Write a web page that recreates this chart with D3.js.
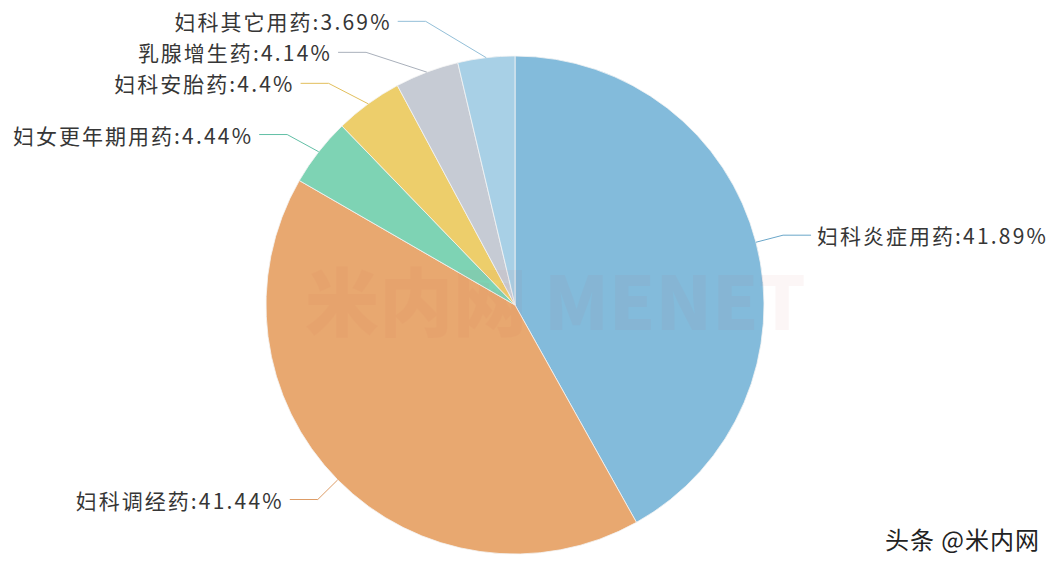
<!DOCTYPE html>
<html><head><meta charset="utf-8">
<script src="https://cdn.jsdelivr.net/npm/d3@7"></script>
<style>body{margin:0;background:#fff;} svg{display:block;}</style>
</head><body><svg id="c" width="1058" height="572"></svg>
<script>
// ---- data ----
const categories = ["妇科炎症用药", "妇科调经药", "妇女更年期用药", "妇科安胎药", "乳腺增生药", "妇科其它用药"];
const shares = [41.89, 41.44, 4.44, 4.4, 4.14, 3.69];
const sliceColors = ["#83bbdb", "#e8a870", "#7ed3b4", "#edce6b", "#c6cbd4", "#a8d0e6"];
const lineColors = ["#6aa6c9", "#dd9c66", "#62bfa6", "#e2bf5c", "#a9b0bb", "#93bfd8"];
const watermark = "米内网 MENET";
const credit = "头条 @米内网";

// ---- layout ----
const W = 1058, H = 572;
const cx = 515, cy = 305, R = 249, len1 = 28, len2 = 28, gap = 6, lineH = 31;
const svg = d3.select("#c");
svg.append("rect").attr("width", W).attr("height", H).attr("fill", "#ffffff");

const data = categories.map((c, i) => ({ name: c, v: shares[i], i }));
const pie = d3.pie().sort(null).value(d => d.v);
const arcGen = d3.arc().innerRadius(0).outerRadius(R);
const arcs = pie(data);

const g = svg.append("g").attr("transform", `translate(${cx},${cy})`);
g.selectAll("path").data(arcs).join("path")
  .attr("d", arcGen)
  .attr("fill", d => sliceColors[d.data.i])
  .attr("stroke", "#f4f4f4").attr("stroke-width", 0.8);

// watermark
svg.append("text").attr("x", 305).attr("y", 330)
  .attr("font-family", "'Noto Sans CJK SC', sans-serif").attr("font-weight", 900)
  .attr("font-size", 74).attr("fill", "#d04040").attr("opacity", 0.04)
  .text(watermark);

// label positions (pie-label style layout with collision shift)
const items = arcs.map(a => {
  const m = (a.startAngle + a.endAngle) / 2;
  const s = Math.sin(m), c = -Math.cos(m);
  return { a, dir: s >= 0 ? 1 : -1,
    p0: [cx + R * s, cy + R * c],
    bx: cx + (R + len1) * s, by: cy + (R + len1) * c };
});
[1, -1].forEach(dir => {
  const side = items.filter(d => d.dir === dir).sort((a, b) => a.by - b.by);
  side.forEach(d => d.y0 = d.by);
  for (let it = 0; it < 300; it++) {
    let moved = false;
    for (let k = 1; k < side.length; k++) {
      const ov = lineH - (side[k].by - side[k - 1].by);
      if (ov > 0.01) { side[k - 1].by -= ov / 2; side[k].by += ov / 2; moved = true; }
    }
    if (!moved) break;
  }
  [side.filter(d => d.by < cy), side.filter(d => d.by >= cy)].forEach(semi => {
    if (!semi.some(d => Math.abs(d.by - d.y0) > 0.5)) return;
    const rA = R + len1;
    const maxDy = d3.max(semi, d => Math.abs(d.by - cy));
    const rB = maxDy + 16;
    semi.forEach(d => {
      const dy = Math.abs(d.by - cy);
      const dx = rA * Math.sqrt(Math.max(0, 1 - (dy / rB) * (dy / rB)));
      d.bx = cx + dir * dx;
    });
  });
});

const lg = svg.append("g");
items.forEach(d => {
  const i = d.a.data.i;
  const ex = d.bx + d.dir * len2;
  lg.append("polyline")
    .attr("points", [d.p0, [d.bx, d.by], [ex, d.by]].map(p => p.join(",")).join(" "))
    .attr("fill", "none").attr("stroke", lineColors[i]).attr("stroke-width", 1);
  const t = lg.append("text")
    .attr("x", ex + d.dir * gap).attr("y", d.by)
    .attr("dominant-baseline", "central")
    .attr("text-anchor", d.dir > 0 ? "start" : "end")
    .attr("font-family", "'Noto Sans CJK SC', sans-serif")
    .attr("font-size", 21).attr("fill", "#363636");
  t.append("tspan").attr("letter-spacing", 2).text(d.a.data.name);
  t.append("tspan").attr("letter-spacing", 2.2).text(":" + d.a.data.v + "%");
});

// credit
svg.append("text").attr("x", 1040).attr("y", 549)
  .attr("text-anchor", "end")
  .attr("font-family", "'Noto Sans CJK SC', sans-serif")
  .attr("font-size", 24).attr("letter-spacing", 1).attr("fill", "#222")
  .attr("stroke", "#ffffff").attr("stroke-width", 2).attr("paint-order", "stroke")
  .text(credit);
</script></body></html>
